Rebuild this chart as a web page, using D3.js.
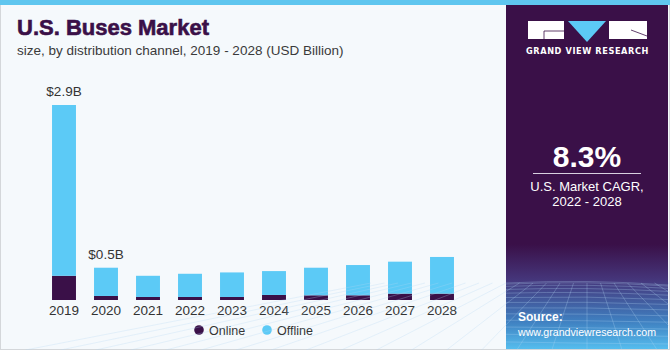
<!DOCTYPE html>
<html>
<head>
<meta charset="utf-8">
<script src="https://cdn.jsdelivr.net/npm/d3@7"></script>
<style>
  html, body { margin: 0; padding: 0; background: #fff; }
  svg { display: block; }
</style>
</head>
<body>
<div id="chart"></div>
<script>
// dados (USD bilhões)
const anos = ["2019", "2020", "2021", "2022", "2023", "2024", "2025", "2026", "2027", "2028"];
const online = [0.36, 0.06, 0.045, 0.045, 0.045, 0.075, 0.07, 0.07, 0.095, 0.095];
const offline = [2.54, 0.42, 0.315, 0.345, 0.365, 0.355, 0.41, 0.45, 0.475, 0.545];
const rotulos = ["$2.9B", "$0.5B", null, null, null, null, null, null, null, null];
const series = ["Online", "Offline"];

const width = 670, height = 350;
const roxo = "#3a1048", azul = "#5ccaf6";
const fonte = "'Liberation Sans', Arial, sans-serif";

const svg = d3.select("#chart").append("svg")
  .attr("width", width).attr("height", height);

// fundo
svg.append("rect").attr("width", width).attr("height", height).attr("fill", "#f5f9fc");
svg.append("rect").attr("x", 0.5).attr("y", 0.5).attr("width", width - 1).attr("height", height - 1)
  .attr("fill", "none").attr("stroke", "#d4d7da");

// titulo
svg.append("text").attr("x", 17).attr("y", 35)
  .style("font-family", fonte)
  .style("font-size", "22px").style("font-weight", "bold")
  .attr("fill", roxo).attr("stroke", roxo).attr("stroke-width", 0.6)
  .text("U.S. Buses Market");
svg.append("text").attr("x", 17).attr("y", 55)
  .style("font-family", fonte)
  .style("font-size", "13.5px").attr("fill", "#3a3a3a")
  .text("size, by distribution channel, 2019 - 2028 (USD Billion)");

// === GRAFICO ===
const dados = anos.map((a, i) => ({ ano: a, Online: online[i], Offline: offline[i], rotulo: rotulos[i] }));

const x = d3.scaleBand().domain(anos).range([43, 463]).paddingInner(0.43).paddingOuter(0.215);
const y = d3.scaleLinear().domain([0, 2.9]).range([300, 105]);
const cor = d3.scaleOrdinal().domain(series).range([roxo, azul]);

const empilhado = d3.stack().keys(series)(dados);

svg.append("g")
  .selectAll("g")
  .data(empilhado)
  .join("g")
  .attr("fill", d => cor(d.key))
  .selectAll("rect")
  .data(d => d)
  .join("rect")
  .attr("x", d => x(d.data.ano))
  .attr("y", d => y(d[1]))
  .attr("height", d => y(d[0]) - y(d[1]))
  .attr("width", x.bandwidth());

// rotulos de valor
svg.append("g")
  .selectAll("text")
  .data(dados.filter(d => d.rotulo))
  .join("text")
  .attr("x", d => x(d.ano) + x.bandwidth() / 2)
  .attr("y", d => y(d.Online + d.Offline) - 9)
  .attr("text-anchor", "middle")
  .style("font-family", fonte)
  .style("font-size", "13.5px").attr("fill", "#333")
  .text(d => d.rotulo);

// eixo x
const eixo = svg.append("g").attr("transform", `translate(0,${y(0)})`)
  .call(d3.axisBottom(x).tickSize(0).tickPadding(5));
eixo.select(".domain").remove();
eixo.selectAll("text")
  .style("font-family", fonte)
  .style("font-size", "13.5px").attr("fill", "#333");

// legenda
const legenda = svg.append("g").attr("transform", "translate(199,330)")
  .selectAll("g").data(series).join("g")
  .attr("transform", (d, i) => `translate(${i * 68},0)`);
legenda.append("circle").attr("r", 4.8).attr("fill", d => cor(d));
legenda.append("text").attr("x", 10).attr("y", 4.5)
  .style("font-family", fonte)
  .style("font-size", "12.5px").attr("fill", "#333")
  .text(d => d);

// === PAINEL DIREITO ===
const px = 506, pw = 162;
const defs = svg.append("defs");
const grad = defs.append("linearGradient").attr("id", "gradPainel").attr("x1", 0).attr("y1", 0).attr("x2", 0).attr("y2", 1);
grad.append("stop").attr("offset", "0%").attr("stop-color", roxo);
grad.append("stop").attr("offset", "70%").attr("stop-color", roxo);
grad.append("stop").attr("offset", "80%").attr("stop-color", "#45357a");
grad.append("stop").attr("offset", "92%").attr("stop-color", "#3f7fc0");
grad.append("stop").attr("offset", "100%").attr("stop-color", "#55bdee");

svg.append("rect").attr("x", px).attr("y", 0).attr("width", pw).attr("height", height - 1)
  .attr("fill", "url(#gradPainel)");

// grade decorativa no rodape
const grade = svg.append("g").attr("stroke", "#b5d8f5").attr("stroke-opacity", 0.4).attr("stroke-width", 0.7).attr("fill", "none");
const horizonte = 283;
d3.range(0, 14).forEach(i => {
  const t = i / 13;
  const yy = horizonte + Math.pow(t, 1.6) * (height - horizonte);
  grade.append("path").attr("d", `M${px},${yy} Q${px + pw / 2},${yy - 4 + t * 6} ${px + pw},${yy + 2}`);
});
d3.range(-10, 22).forEach(i => {
  const xt = px + i * (pw / 12);
  const xb = px + pw / 2 + (xt - px - pw / 2) * 2.6;
  grade.append("line").attr("x1", xt).attr("y1", horizonte).attr("x2", xb).attr("y2", height);
});

// faixa azul superior
svg.append("rect").attr("x", 0).attr("y", 0).attr("width", width).attr("height", 5).attr("fill", "#5fc6ef");

// logo
const logo = svg.append("g");
logo.append("rect").attr("x", 528).attr("y", 21).attr("width", 36).attr("height", 18).attr("fill", "#fff");
logo.append("path").attr("d", "M544,39 V31 H564").attr("stroke", roxo).attr("stroke-width", 0.8).attr("fill", "none");
logo.append("path").attr("d", "M568,21 H606 L587,42 Z").attr("fill", azul);
logo.append("rect").attr("x", 609).attr("y", 21).attr("width", 38).attr("height", 18).attr("fill", "#fff");
logo.append("path").attr("d", "M631,30 L647,36").attr("stroke", roxo).attr("stroke-width", 0.8);
logo.append("text").attr("x", 587.5).attr("y", 53.5).attr("text-anchor", "middle")
  .style("font-family", "'DejaVu Sans', sans-serif").style("font-size", "8.2px").style("font-weight", "bold")
  .style("letter-spacing", "0.6px").attr("fill", "#fff")
  .text("GRAND VIEW RESEARCH");

// CAGR
svg.append("text").attr("x", 587).attr("y", 167).attr("text-anchor", "middle")
  .style("font-family", fonte)
  .style("font-size", "30px").style("font-weight", "bold").attr("fill", "#fff")
  .text("8.3%");
svg.append("line").attr("x1", 533).attr("x2", 641).attr("y1", 173.5).attr("y2", 173.5)
  .attr("stroke", "#d8d0e0").attr("stroke-width", 1);
svg.append("text").attr("x", 587).attr("y", 191).attr("text-anchor", "middle")
  .style("font-family", fonte)
  .style("font-size", "13px").attr("fill", "#fff")
  .text("U.S. Market CAGR,");
svg.append("text").attr("x", 587).attr("y", 206).attr("text-anchor", "middle")
  .style("font-family", fonte)
  .style("font-size", "13px").attr("fill", "#fff")
  .text("2022 - 2028");

// fonte
svg.append("text").attr("x", 518).attr("y", 321)
  .style("font-family", fonte)
  .style("font-size", "12px").style("font-weight", "bold").attr("fill", "#fff")
  .text("Source:");
svg.append("text").attr("x", 518).attr("y", 336)
  .style("font-family", fonte)
  .style("font-size", "11.5px").attr("fill", "#fff")
  .attr("textLength", 138).attr("lengthAdjust", "spacingAndGlyphs")
  .text("www.grandviewresearch.com");
</script>
</body>
</html>
